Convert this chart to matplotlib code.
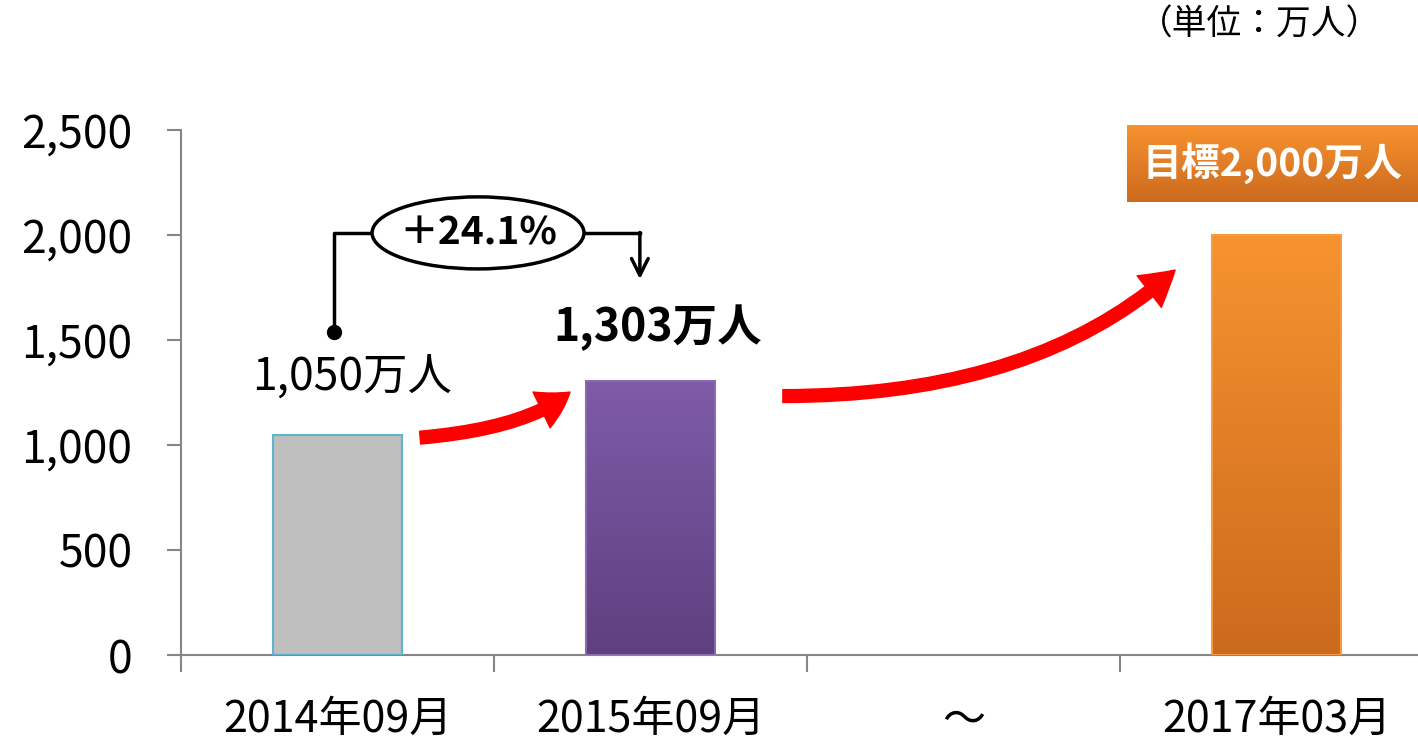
import numpy as np
import matplotlib
matplotlib.use("Agg")
import matplotlib.pyplot as plt
from matplotlib.colors import LinearSegmentedColormap
from matplotlib.patches import Ellipse, FancyArrowPatch
from matplotlib.ticker import FuncFormatter

plt.rcParams['font.family'] = ['Noto Sans CJK JP', 'DejaVu Sans']

# data
labels = ['2014年09月', '2015年09月', '～', '2017年03月']
values = [1050, 1303, None, 2000]
bar_top = ['#bfbfbf', '#7f5ba8', None, '#f7932f']
bar_bottom = ['#bfbfbf', '#5e4080', None, '#cb6a1d']
bar_edge = ['#5fb3cc', '#8a6ab3', None, '#f59a45']
yticks = [0, 500, 1000, 1500, 2000, 2500]

fig = plt.figure(figsize=(14.18, 7.45), dpi=100)
ax = fig.add_axes([181 / 1418, 1 - 655 / 745, 1 - 181 / 1418, 525 / 745])


def gradient_bar(ax, bar, top, bottom):
    x0, y0 = bar.get_xy()
    w, h = bar.get_width(), bar.get_height()
    grad = np.linspace(0, 1, 256).reshape(-1, 1)
    cmap = LinearSegmentedColormap.from_list('g', [bottom, top])
    im = ax.imshow(grad, extent=[x0, x0 + w, y0, y0 + h], origin='lower',
                   aspect='auto', cmap=cmap, zorder=2)
    im.set_clip_path(bar)


for i, v in enumerate(values):
    if v is None:
        continue
    b = ax.bar(i, v, width=0.41, color=bar_top[i], edgecolor=bar_edge[i],
               linewidth=1.5, zorder=2)[0]
    gradient_bar(ax, b, bar_top[i], bar_bottom[i])
    b.set_zorder(3)
    b.set_facecolor('none')

# slots are ~313 px wide, the last one runs past the right edge
ax.set_xlim(-0.5, -0.5 + 1237 / 313)
ax.set_ylim(0, 2500)
ax.set_yticks(yticks)
ax.yaxis.set_major_formatter(FuncFormatter(lambda v, p: '{:,.0f}'.format(v)))
ax.set_xticks(range(len(labels)))
ax.set_xticklabels(labels)
ax.set_xticks([-0.5, 0.5, 1.5, 2.5], minor=True)

for s in ['top', 'right']:
    ax.spines[s].set_visible(False)
for s in ['left', 'bottom']:
    ax.spines[s].set_color('#868686')
    ax.spines[s].set_linewidth(1.5)
ax.tick_params(axis='y', length=10, width=1.5, color='#868686', labelsize=32, pad=25)
ax.tick_params(axis='x', which='major', length=0, labelsize=31, pad=31)
ax.tick_params(axis='x', which='minor', length=12, width=1.5, color='#868686')

# value labels
ax.text(0.046, 1319, '1,050万人', ha='center', va='center', fontsize=32)
ax.text(1.024, 1557, '1,303万人', ha='center', va='center', fontsize=32,
        fontweight='bold')

# growth bracket
ax.plot([-0.011, -0.011, 0.11], [1538, 2010, 2010], color='black', lw=2.5,
        zorder=4, clip_on=False)
ax.plot(-0.011, 1538, 'o', color='black', ms=10, zorder=5)
ax.add_patch(Ellipse((0.449, 2010), 0.677, 343, facecolor='white',
                     edgecolor='black', lw=2.5, zorder=5))
ax.text(0.449, 2010, '＋24.1%', ha='center', va='center', fontsize=28,
        fontweight='bold', zorder=6)
ax.plot([0.787, 0.966], [2010, 2010], color='black', lw=2.5, zorder=4)
ax.annotate('', xy=(0.966, 1790), xytext=(0.966, 2012),
            arrowprops=dict(arrowstyle='->', lw=2.5, color='black',
                            mutation_scale=30, shrinkA=0, shrinkB=0))

# red curved arrows
style = 'simple,head_length=1.1,head_width=1.3,tail_width=0.42'
ax.add_patch(FancyArrowPatch((0.264, 1035), (0.743, 1252),
                             connectionstyle='angle3,angleA=5,angleB=40',
                             arrowstyle=style, mutation_scale=22,
                             color='#ff0000', shrinkA=0, shrinkB=0, zorder=4))
ax.add_patch(FancyArrowPatch((1.423, 1233), (2.676, 1833),
                             connectionstyle='angle3,angleA=0,angleB=42',
                             arrowstyle=style, mutation_scale=22,
                             color='#ff0000', shrinkA=0, shrinkB=0, zorder=4))

# target box
bx = fig.add_axes([1127 / 1418, 1 - 202 / 745, 291 / 1418, 77 / 745])
grad = np.linspace(0, 1, 256).reshape(-1, 1)
bx.imshow(grad, origin='lower', aspect='auto', extent=[0, 1, 0, 1],
          cmap=LinearSegmentedColormap.from_list('o', ['#cc6a1e', '#f8922f']))
bx.set_xlim(0, 1)
bx.set_ylim(0, 1)
bx.axis('off')
bx.text(0.5, 0.5, '目標2,000万人', ha='center', va='center', color='white',
        fontsize=28, fontweight='bold')

fig.text(1260 / 1418, 1 - 25 / 745, '（単位：万人）', ha='center', va='center',
         fontsize=25)

fig.savefig('out.png', dpi=100)
